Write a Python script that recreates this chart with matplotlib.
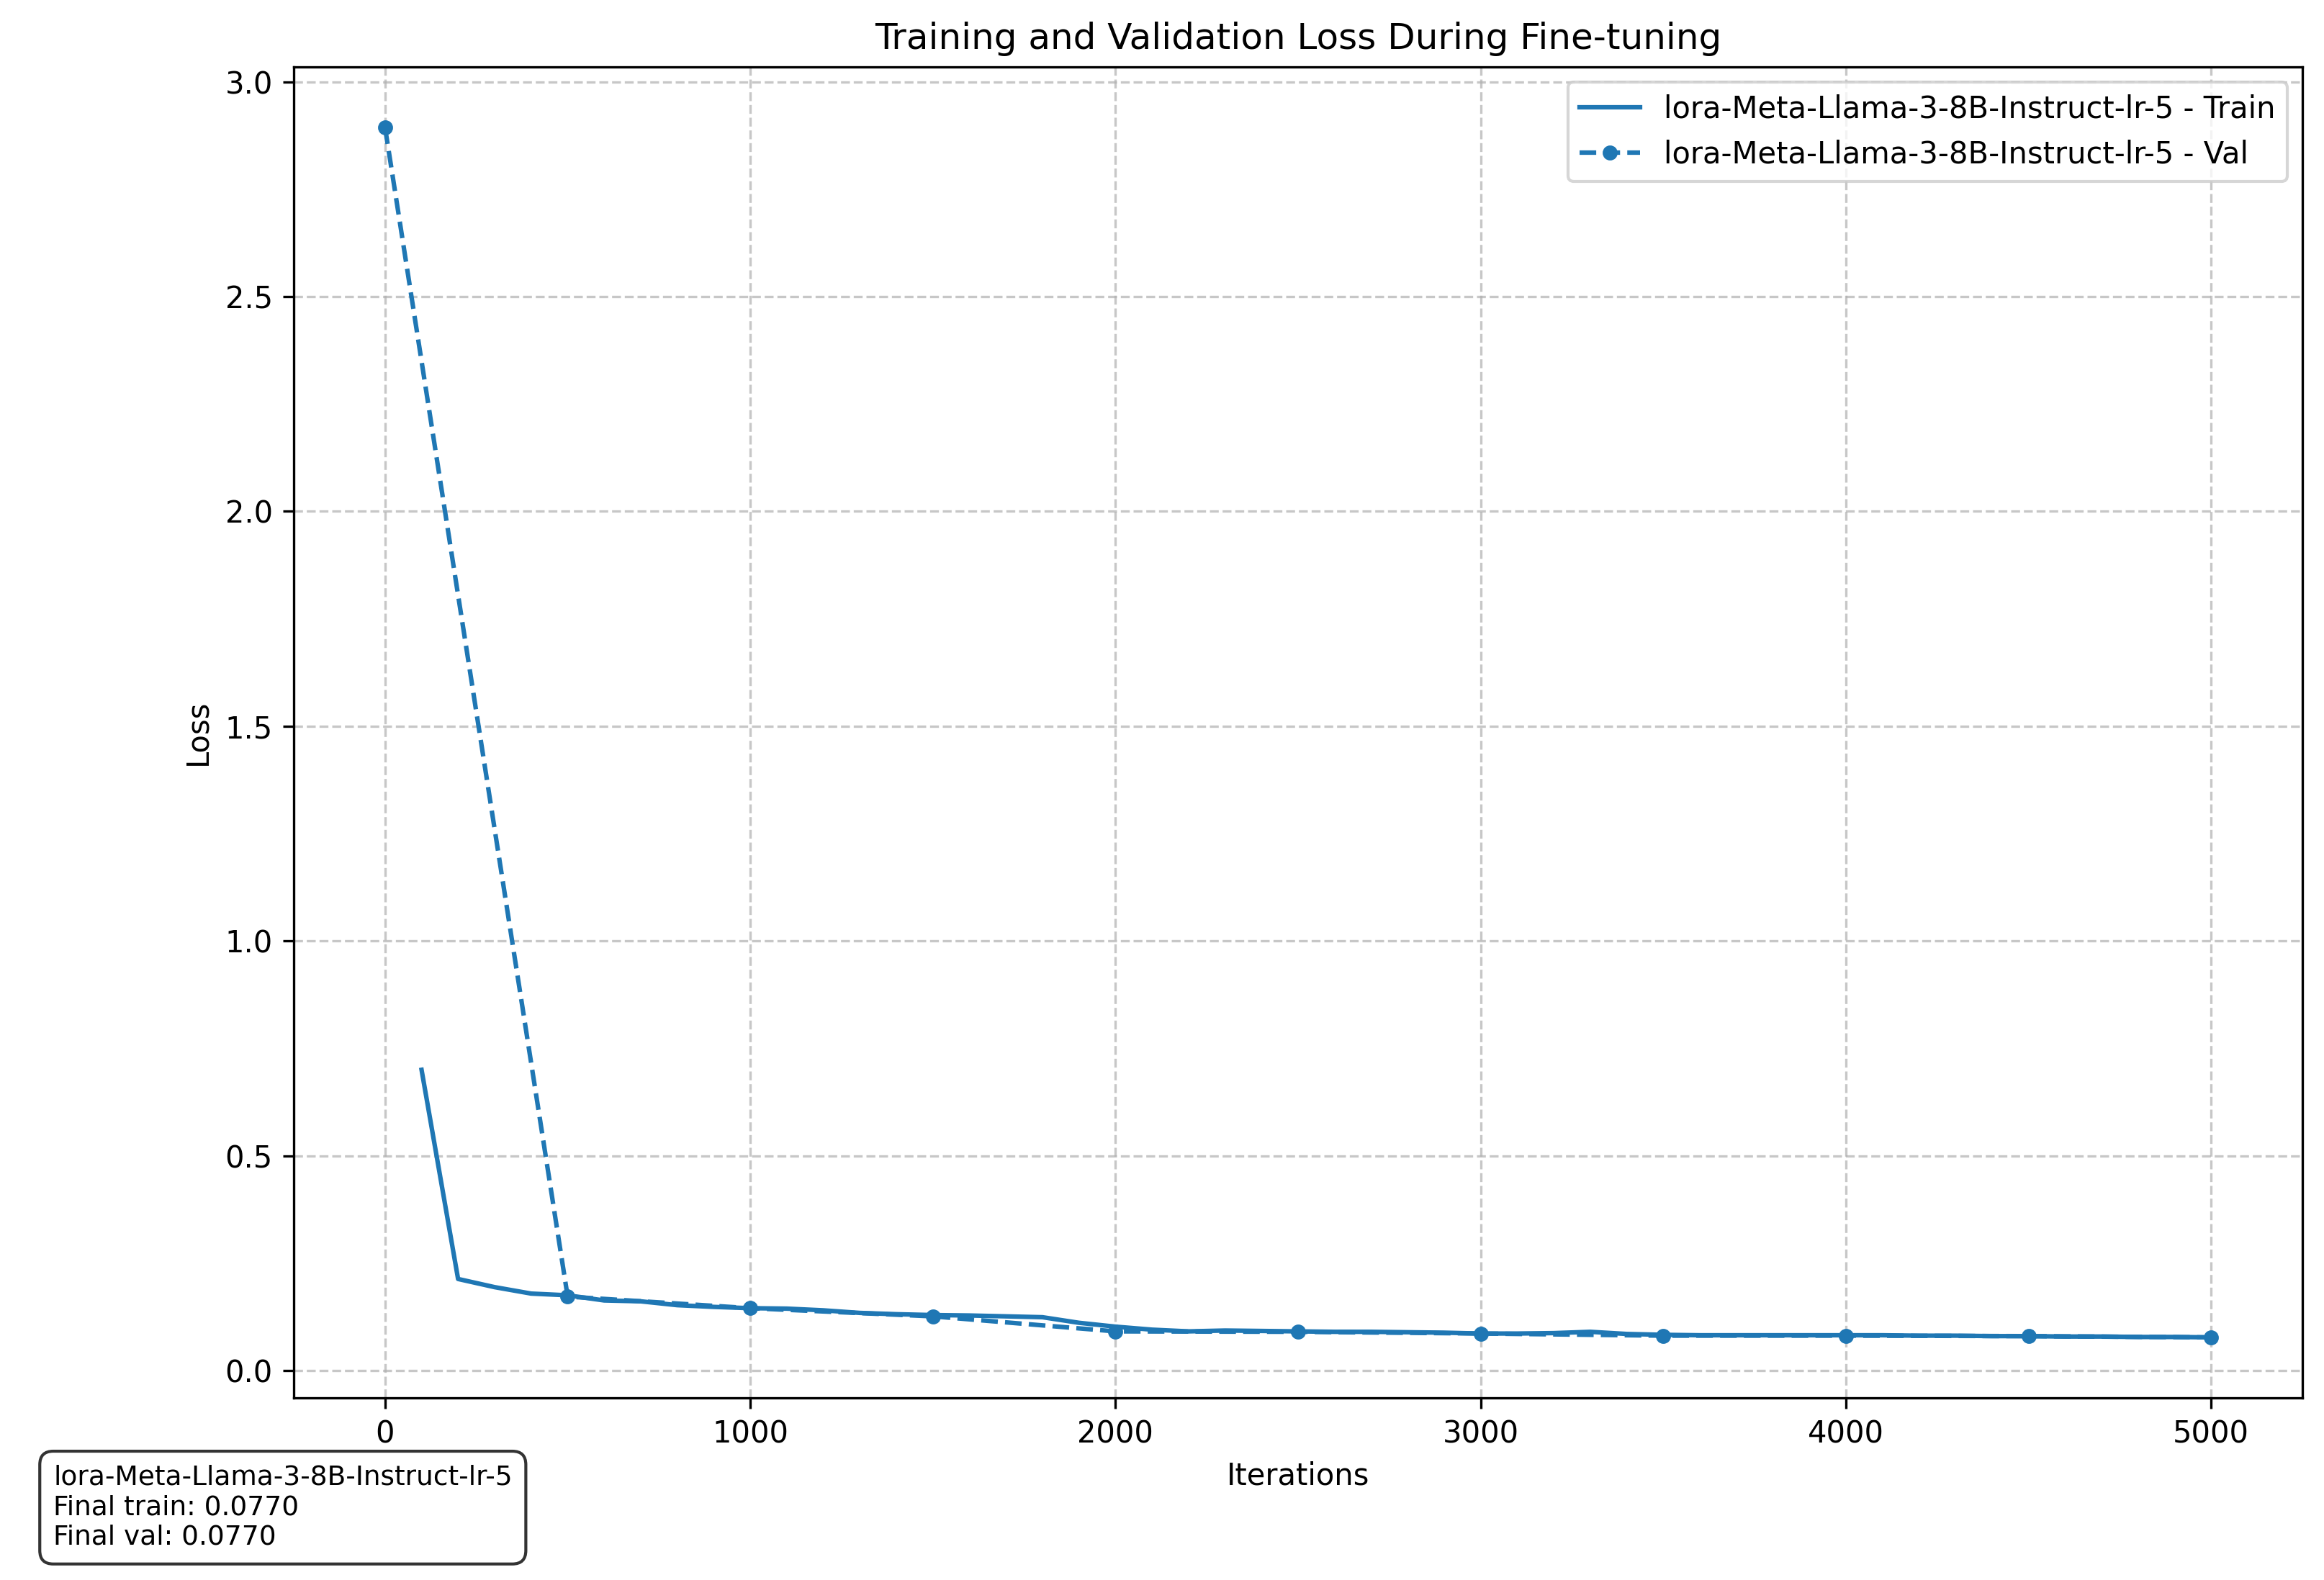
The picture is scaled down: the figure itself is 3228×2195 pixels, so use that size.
import numpy as np
import matplotlib
matplotlib.use("Agg")
from matplotlib import pyplot as plt

# run name used in legend + summary box
runName = "lora-Meta-Llama-3-8B-Instruct-lr-5"

# train loss, logged every 100 iterations
trainIters = list(range(100, 5001, 100))
trainLoss = [0.700, 0.213, 0.194, 0.179, 0.175, 0.163, 0.161, 0.152, 0.148, 0.145,
             0.144, 0.140, 0.134, 0.131, 0.129, 0.128, 0.126, 0.124, 0.111, 0.102,
             0.095, 0.091, 0.093, 0.092, 0.091, 0.090, 0.090, 0.089, 0.088, 0.086,
             0.086, 0.087, 0.090, 0.085, 0.083, 0.082, 0.082, 0.082, 0.082, 0.082,
             0.082, 0.081, 0.081, 0.080, 0.080, 0.079, 0.079, 0.078, 0.078, 0.077]

# val loss, every 500 iterations
valIters = [0, 500, 1000, 1500, 2000, 2500, 3000, 3500, 4000, 4500, 5000]
valLoss = [2.894, 0.172, 0.145, 0.126, 0.091, 0.090, 0.086, 0.081, 0.081, 0.080, 0.077]

finalTrain = 0.0770
finalVal = 0.0770

fig = plt.figure(figsize=(3228 / 300, 2195 / 300), dpi=300)
ax = fig.add_axes([408 / 3228, 1 - 1942 / 2195, (3198 - 408) / 3228, (1942 - 93) / 2195])

color = "#1f77b4"
ax.plot(trainIters, trainLoss, color=color, linestyle="-", label=runName + " - Train")
ax.plot(valIters, valLoss, color=color, linestyle="--", marker="o", markersize=4,
        label=runName + " - Val")

ax.set_title("Training and Validation Loss During Fine-tuning")
ax.set_xlabel("Iterations")
ax.set_ylabel("Loss")
ax.grid(True, linestyle="--", alpha=0.7)
ax.legend(loc="upper right")

summary = runName + "\nFinal train: %.4f\nFinal val: %.4f" % (finalTrain, finalVal)
fig.text(74 / 3228, 1 - 2154 / 2195, summary, fontsize=9, ha="left", va="bottom",
         bbox=dict(boxstyle="round,pad=0.5", facecolor="white", edgecolor="black", alpha=0.8))

fig.savefig("out.png", dpi=300)
